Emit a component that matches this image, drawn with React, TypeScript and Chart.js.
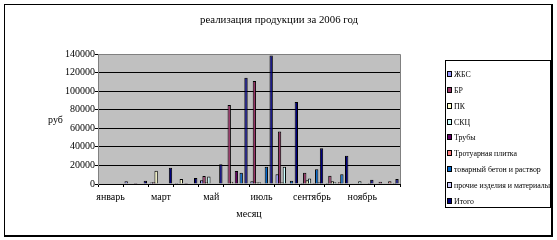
import React, { useEffect, useRef } from "react";
import { Chart, registerables } from "chart.js";

Chart.register(...registerables);

// ---- data ----
const months = [
  "январь", "февраль", "март", "апрель", "май", "июнь",
  "июль", "август", "сентябрь", "октябрь", "ноябрь", "декабрь",
];

const seriesNames = [
  "ЖБС",
  "БР",
  "ПК",
  "СКЦ",
  "Трубы",
  "Тротуарная плитка",
  "товарный бетон и раствор",
  "прочие изделия и материалы",
  "Итого",
];

const seriesColors = [
  "#9999FF", "#993366", "#FFFFCC", "#CCFFFF", "#660066",
  "#FF8080", "#0066CC", "#CCCCFF", "#000080",
];

const zhbs = [0, 3000, 1500, 1000, 4000, 0, 3000, 10500, 1000, 1000, 0, 0];
const br = [0, 0, 2000, 0, 8500, 85000, 111000, 56500, 12000, 9000, 0, 2500];
const pk = [0, 0, 14400, 5500, 2000, 2500, 1500, 2000, 4000, 3000, 0, 0];
const skc = [0, 0, 0, 0, 8000, 0, 2000, 18700, 6000, 2000, 3000, 0];
const truby = [0, 1000, 0, 1000, 0, 14000, 0, 0, 0, 0, 0, 0];
const plitka = [0, 0, 0, 0, 0, 0, 0, 0, 1000, 2000, 0, 3000];
const beton = [0, 0, 0, 0, 0, 12200, 18700, 3600, 15900, 10400, 0, 0];
const prochie = [0, 0, 0, 0, 0, 0, 0, 0, 2000, 0, 1000, 1000];
const itogo = [0, 3600, 17600, 6500, 21300, 114300, 138400, 88300, 38600, 30300, 4500, 5500];

const seriesValues = [zhbs, br, pk, skc, truby, plitka, beton, prochie, itogo];

const yMin = 0;
const yMax = 140000;
const yStep = 20000;

const chartTitle = "реализация продукции за 2006 год";
const yTitle = "руб";
const xTitle = "месяц";

const FONT = "'Liberation Serif', 'Times New Roman', serif";

const excelPlugin = {
  id: "excelFrame",
  beforeDraw(chart: any) {
    const { ctx, chartArea: a, width, height } = chart;
    ctx.save();
    ctx.fillStyle = "#ffffff";
    ctx.fillRect(0, 0, width, height);
    ctx.fillStyle = "#c0c0c0";
    ctx.fillRect(a.left, a.top, a.right - a.left, a.bottom - a.top);
    ctx.restore();
  },
  beforeDatasetsDraw(chart: any) {
    const { ctx, chartArea: a } = chart;
    ctx.save();
    ctx.strokeStyle = "#808080";
    ctx.lineWidth = 1;
    ctx.beginPath();
    ctx.moveTo(a.left, a.top + 0.5);
    ctx.lineTo(a.right + 0.5, a.top + 0.5);
    ctx.lineTo(a.right + 0.5, a.bottom);
    ctx.stroke();
    ctx.restore();
  },
  afterDraw(chart: any) {
    const { ctx } = chart;
    ctx.save();
    // outer frame
    ctx.fillStyle = "#000";
    ctx.fillRect(4, 4, 549, 1);
    ctx.fillRect(4, 4, 1, 233);
    ctx.fillRect(551, 4, 2, 233);
    ctx.fillRect(4, 235, 549, 2);

    // title
    ctx.fillStyle = "#000";
    ctx.textBaseline = "alphabetic";
    ctx.textAlign = "left";
    ctx.font = `11px ${FONT}`;
    const tw = ctx.measureText(chartTitle).width;
    const targetTw = 158;
    ctx.save();
    ctx.translate(279 - targetTw / 2, 23);
    ctx.scale(targetTw / tw, 1);
    ctx.fillText(chartTitle, 0, 0);
    ctx.restore();

    // y title (horizontal)
    ctx.font = `10px ${FONT}`;
    ctx.textAlign = "center";
    ctx.fillText(yTitle, 55.5, 123);

    // legend
    ctx.strokeStyle = "#000";
    ctx.lineWidth = 1;
    ctx.strokeRect(445.5, 60.5, 105, 147);
    ctx.font = `9px ${FONT}`;
    ctx.textAlign = "left";
    const ds = chart.data.datasets;
    const longest = Math.max(...ds.map((d: any) => ctx.measureText(d.label).width));
    const sx = 96 / longest;
    ds.forEach((d: any, i: number) => {
      const cy = Math.round(74 + i * 15.85);
      ctx.fillStyle = d.backgroundColor;
      ctx.fillRect(448, cy - 2, 3, 4);
      ctx.strokeStyle = "#000";
      ctx.strokeRect(447.5, cy - 2.5, 4, 5);
      ctx.fillStyle = "#000";
      ctx.save();
      ctx.translate(454, cy + 3);
      ctx.scale(sx, 1);
      ctx.fillText(d.label, 0, 0);
      ctx.restore();
    });
    ctx.restore();
  },
};

export default function App() {
  const ref = useRef<HTMLCanvasElement | null>(null);

  useEffect(() => {
    document.body.style.margin = "0";
    if (!ref.current) return;
    const chart = new Chart(ref.current, {
      type: "bar",
      data: {
        labels: months,
        datasets: seriesNames.map((name, i) => ({
          label: name,
          data: seriesValues[i],
          backgroundColor: seriesColors[i],
          borderColor: "#000",
          borderWidth: 1,
          borderSkipped: "start",
          categoryPercentage: 9 / 10.5,
          barPercentage: 1.4,
        })),
      },
      options: {
        animation: false,
        responsive: false,
        devicePixelRatio: 1,
        layout: { padding: { top: 54, right: 157, left: 0, bottom: 0 } },
        plugins: {
          legend: { display: false },
          tooltip: { enabled: false },
          title: { display: false },
        },
        scales: {
          x: {
            type: "category",
            grid: {
              display: true,
              drawOnChartArea: false,
              drawTicks: true,
              tickLength: 3,
              color: "#000",
              offset: true,
            },
            border: { display: true, color: "#000", width: 1 },
            ticks: {
              autoSkip: false,
              maxRotation: 0,
              minRotation: 0,
              padding: 4,
              color: "#000",
              font: { family: FONT, size: 10 },
              callback: (_v: any, i: number) => (i % 2 === 0 ? months[i] : ""),
            },
            title: {
              display: true,
              text: xTitle,
              color: "#000",
              font: { family: FONT, size: 10 },
              padding: { top: 0, bottom: 20 },
            },
            afterFit: (s: any) => {
              s.height = 56;
            },
          },
          y: {
            min: yMin,
            max: yMax,
            grid: {
              color: "#000",
              lineWidth: 1,
              drawTicks: true,
              tickLength: 3,
            },
            border: { display: true, color: "#808080", width: 1 },
            ticks: {
              stepSize: yStep,
              padding: 0,
              color: "#000",
              font: { family: FONT, size: 10 },
              callback: (v: any) => String(v),
            },
            afterFit: (s: any) => {
              s.width = 98;
            },
          },
        },
      },
      plugins: [excelPlugin],
    } as any);
    return () => chart.destroy();
  }, []);

  return (
    <div style={{ position: "absolute", left: 0, top: 0, width: 557, height: 240 }}>
      <canvas ref={ref} width={557} height={240} style={{ display: "block" }} />
    </div>
  );
}
